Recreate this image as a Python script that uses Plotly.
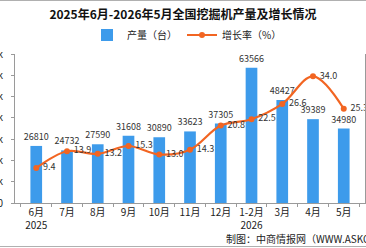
import plotly.graph_objects as go

months = ["6月", "7月", "8月", "9月", "10月", "11月", "12月", "1-2月", "3月", "4月", "5月"]
years = ["2025", "", "", "", "", "", "", "2026", "", "", ""]
output = [26810, 24732, 27590, 31608, 30890, 33623, 37305, 63566, 48427, 39389, 34980]
growth = [9.4, 13.9, 13.2, 15.3, 13.0, 14.3, 20.8, 22.5, 26.6, 34.0, 25.3]
left_ticks = [0, 10000, 20000, 30000, 40000, 50000, 60000, 70000]

W, H = 366, 248
L, R, T, B = 15, 1, 54, 45
ph = H - T - B
pw = W - L - R

def py(y_px):
    return (H - y_px - B) / ph

def px(x_px):
    return (x_px - L) / pw

ticktext = [m + ("<br>" + y if y else "") for m, y in zip(months, years)]
FONT = "Noto Sans CJK SC"

fig = go.Figure()
fig.add_trace(go.Bar(
    x=months, y=output, name="产量（台）",
    marker=dict(color="#3D9BEB", line=dict(width=0)),
    width=0.38,
    text=[str(v) for v in output], textposition="outside",
    constraintext="none",
    textfont=dict(size=9, color="#333333", family=FONT),
    cliponaxis=False,
))
fig.add_trace(go.Scatter(
    x=months, y=growth, name="增长率（%）", yaxis="y2",
    mode="lines+markers+text",
    line=dict(color="#F26522", width=2.2, shape="spline", smoothing=1.0),
    marker=dict(color="#F26522", size=6),
    text=[f" {v:.1f}" for v in growth], textposition="middle right",
    textfont=dict(size=9, color="#333333", family=FONT),
    cliponaxis=False,
))

fig.update_layout(
    width=W, height=H,
    margin=dict(l=L, r=R, t=T, b=B),
    paper_bgcolor="white", plot_bgcolor="white",
    font=dict(family=FONT, size=10, color="#222222"),
    title=dict(text="<b>2025年6月-2026年5月全国挖掘机产量及增长情况</b>",
               x=0.5, xanchor="center", y=1 - 15 / H, yanchor="middle",
               yref="container", font=dict(size=12, color="#111111", family=FONT)),
    showlegend=True,
    legend=dict(orientation="h", x=px(187), xanchor="center", y=py(35), yanchor="middle",
                font=dict(size=10, family=FONT), bgcolor="rgba(0,0,0,0)",
                itemwidth=30, tracegroupgap=0),
    bargap=0.6,
    xaxis=dict(
        type="category", tickmode="array", tickvals=months, ticktext=ticktext,
        tickangle=0,
        showline=True, linecolor="#9a9a9a", linewidth=1,
        ticks="outside", ticklen=3, tickcolor="#9a9a9a", tickson="boundaries",
        showgrid=False, tickfont=dict(size=10, color="#222222"),
        automargin=False,
    ),
    yaxis=dict(
        range=[0, 70000], tickmode="array", tickvals=left_ticks,
        showline=True, linecolor="#9a9a9a", linewidth=1,
        ticks="outside", ticklen=3, tickcolor="#9a9a9a",
        showgrid=False, zeroline=False, tickfont=dict(size=10, color="#222222"),
        ticklabelstandoff=6, automargin=False,
    ),
    yaxis2=dict(
        range=[0, 40], overlaying="y", side="right",
        showline=True, linecolor="#9a9a9a", linewidth=1,
        showticklabels=False, ticks="", showgrid=False, zeroline=False,
        automargin=False,
    ),
    shapes=[
        dict(type="line", xref="paper", yref="paper", x0=px(-2), x1=px(W + 2),
             y0=py(0.5), y1=py(0.5), line=dict(color="#b0b0b0", width=1)),
        dict(type="line", xref="paper", yref="paper", x0=px(-2), x1=px(W + 2),
             y0=py(246.5), y1=py(246.5), line=dict(color="#b0b0b0", width=1)),
    ],
    annotations=[
        dict(text="制图：中商情报网（WWW.ASKCI.COM）", xref="paper", yref="paper",
             x=px(224), y=py(238), xanchor="left", yanchor="middle",
             showarrow=False, font=dict(size=10, color="#222222", family=FONT)),
    ],
)

fig.write_html("out.html")
